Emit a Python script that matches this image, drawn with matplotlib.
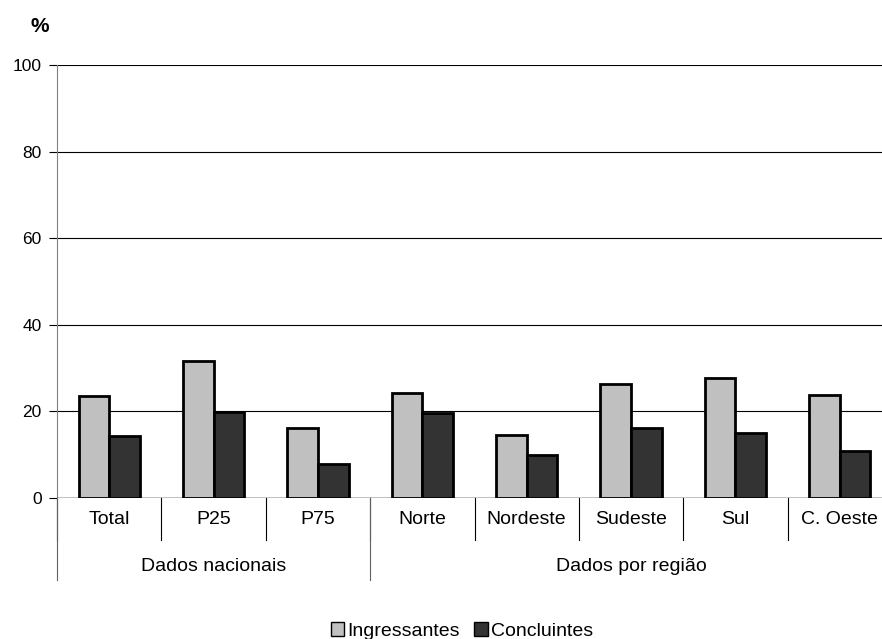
import matplotlib.pyplot as plt
from matplotlib.patches import Patch
import numpy as np

plt.rcParams['font.family'] = ['Liberation Sans', 'DejaVu Sans']

# categories and values (%)
categorias = ["Total", "P25", "P75", "Norte", "Nordeste", "Sudeste", "Sul", "C. Oeste"]
grupos = ["Dados nacionais", "Dados por região"]
grupo_tamanho = [3, 5]
ingressantes = [23.5, 31.6, 16.1, 24.3, 14.6, 26.3, 27.7, 23.7]
concluintes = [14.3, 19.8, 7.8, 19.5, 9.8, 16.0, 15.0, 10.7]
yticks = [0, 20, 40, 60, 80, 100]

fig = plt.figure(figsize=(8.82, 6.39), dpi=100)
ax = fig.add_axes([57/882, 1-497.7/639, 835/882, 432.7/639])

x = np.arange(len(categorias))
w = 0.294
ax.bar(x - w/2, ingressantes, w, color="#c0c0c0", edgecolor="black", linewidth=2.0,
       label="Ingressantes", zorder=3)
ax.bar(x + w/2, concluintes, w, color="#333333", edgecolor="black", linewidth=2.0,
       label="Concluintes", zorder=3)

ax.set_xlim(-0.5, len(categorias) - 0.5)
ax.set_ylim(0, 100)
ax.set_yticks(yticks)
ax.tick_params(axis="y", labelsize=12.5, length=6, width=0.8, pad=5, color="black")
ax.set_xticks([])
ax.yaxis.grid(True, color="black", linewidth=0.8, zorder=0)
for s in ["top", "right", "bottom"]:
    ax.spines[s].set_visible(False)
ax.spines["left"].set_color("#808080")
ax.axhline(0, color="black", linewidth=1.0, zorder=4)

# category labels and separators below the axis
tr = ax.get_xaxis_transform()
for i, c in enumerate(categorias):
    ax.text(i, -0.051, c, transform=tr, ha="center", va="center", fontsize=14)
for i in range(len(categorias) + 1):
    ax.plot([i - 0.5, i - 0.5], [0, -0.098], transform=tr, color="black",
            linewidth=0.8, clip_on=False)

start = 0
for g, n in zip(grupos, grupo_tamanho):
    ax.text(start + n/2 - 0.5, -0.158, g, transform=tr, ha="center", va="center",
            fontsize=14)
    ax.plot([start - 0.5, start - 0.5], [0, -0.19], transform=tr, color="#606060",
            linewidth=0.8, clip_on=False)
    start += n
ax.plot([start - 0.5, start - 0.5], [0, -0.19], transform=tr, color="#606060",
        linewidth=0.8, clip_on=False)

fig.text(40/882, 1-27/639, "%", fontsize=15, fontweight="bold", ha="center", va="center")

handles = [Patch(facecolor="#c0c0c0", edgecolor="black", linewidth=1.0),
           Patch(facecolor="#333333", edgecolor="black", linewidth=1.0)]
fig.legend(handles, ["Ingressantes", "Concluintes"], loc="center",
           bbox_to_anchor=(462/882, 1-631/639), ncol=2, frameon=False,
           fontsize=14, handlelength=0.7, handleheight=0.7, handletextpad=0.15,
           columnspacing=0.75, borderpad=0)

fig.savefig("out.png", dpi=100)
